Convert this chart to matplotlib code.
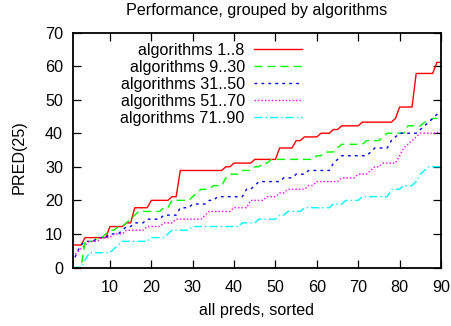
import matplotlib
matplotlib.use('Agg')
import matplotlib.pyplot as plt

# ---------------- data ----------------
x = list(range(1, 91))

alg_1_8 = [6.7, 6.7, 6.7, 8.9, 8.9, 8.9, 8.9, 8.9, 8.9, 12.2,
           12.2, 12.2, 12.2, 13.3, 13.3, 17.8, 17.8, 17.8, 17.8, 20.0,
           20.0, 20.0, 20.0, 20.0, 21.1, 21.1, 28.9, 28.9, 28.9, 28.9,
           28.9, 28.9, 28.9, 28.9, 28.9, 28.9, 28.9, 30.0, 30.0, 31.1,
           31.1, 31.1, 31.1, 31.1, 32.2, 32.2, 32.2, 32.2, 32.2, 32.2,
           35.6, 35.6, 35.6, 35.6, 37.8, 37.8, 38.9, 38.9, 38.9, 38.9,
           40.0, 40.0, 40.0, 41.1, 41.1, 42.2, 42.2, 42.2, 42.2, 42.2,
           43.3, 43.3, 43.3, 43.3, 43.3, 43.3, 43.3, 43.3, 44.4, 47.8,
           47.8, 47.8, 47.8, 57.8, 57.8, 57.8, 57.8, 57.8, 61.1, 61.1]

alg_9_30 = [0.0, 0.0, 0.0, 7.8, 7.8, 7.8, 8.9, 8.9, 10.0, 11.1,
            11.1, 12.2, 12.2, 13.3, 14.4, 15.6, 16.7, 16.7, 16.7, 16.7,
            16.7, 16.7, 17.8, 17.8, 20.0, 20.0, 20.0, 20.0, 20.0, 21.1,
            22.2, 23.3, 23.3, 23.3, 24.4, 24.4, 24.4, 26.7, 27.8, 27.8,
            27.8, 28.9, 28.9, 28.9, 30.0, 30.0, 31.1, 31.1, 32.2, 32.2,
            32.2, 32.2, 32.2, 32.2, 32.2, 32.2, 32.2, 32.2, 32.2, 33.3,
            33.3, 34.4, 34.4, 34.4, 35.6, 36.7, 36.7, 36.7, 36.7, 36.7,
            36.7, 37.8, 37.8, 37.8, 37.8, 38.9, 40.0, 40.0, 40.0, 40.0,
            40.0, 42.2, 42.2, 42.2, 42.2, 43.3, 43.3, 44.4, 44.4, 44.4]

alg_31_50 = [1.1, 4.4, 6.7, 7.8, 7.8, 7.8, 8.9, 8.9, 8.9, 10.0,
             10.0, 10.0, 11.1, 12.2, 12.2, 13.3, 13.3, 13.3, 14.4, 14.4,
             14.4, 14.4, 15.6, 15.6, 15.6, 15.6, 17.8, 17.8, 17.8, 18.9,
             18.9, 18.9, 18.9, 20.0, 20.0, 21.1, 21.1, 21.1, 21.1, 21.1,
             21.1, 21.1, 23.3, 23.3, 24.4, 25.6, 25.6, 25.6, 25.6, 25.6,
             25.6, 26.7, 26.7, 26.7, 27.8, 27.8, 27.8, 28.9, 28.9, 28.9,
             28.9, 28.9, 28.9, 31.1, 32.2, 33.3, 33.3, 33.3, 33.3, 33.3,
             33.3, 33.3, 34.4, 35.6, 35.6, 35.6, 35.6, 37.8, 38.9, 40.0,
             40.0, 40.0, 40.0, 40.0, 41.1, 42.2, 43.3, 44.4, 45.6, 46.7]

alg_51_70 = [3.3, 4.4, 5.6, 6.7, 7.8, 7.8, 7.8, 8.9, 8.9, 8.9,
             10.0, 10.0, 10.0, 11.1, 11.1, 11.1, 11.1, 11.1, 12.2, 12.2,
             12.2, 12.2, 13.3, 13.3, 13.3, 14.4, 14.4, 14.4, 14.4, 14.4,
             14.4, 14.4, 15.6, 16.7, 16.7, 16.7, 16.7, 16.7, 16.7, 17.8,
             17.8, 17.8, 17.8, 20.0, 20.0, 20.0, 20.0, 21.1, 21.1, 21.1,
             22.2, 22.2, 23.3, 23.3, 23.3, 23.3, 23.3, 24.4, 24.4, 25.6,
             25.6, 25.6, 25.6, 25.6, 25.6, 26.7, 26.7, 26.7, 26.7, 27.8,
             27.8, 27.8, 28.9, 30.0, 30.0, 31.1, 31.1, 31.1, 31.1, 33.3,
             35.6, 36.7, 37.8, 38.9, 40.0, 40.0, 40.0, 40.0, 40.0, 41.1]

alg_71_90 = [0.0, 0.0, 0.0, 2.2, 4.4, 4.4, 4.4, 4.4, 4.4, 4.4,
             5.6, 6.7, 7.8, 7.8, 7.8, 7.8, 7.8, 7.8, 7.8, 8.9,
             8.9, 8.9, 8.9, 10.0, 11.1, 11.1, 11.1, 11.1, 11.1, 12.2,
             12.2, 12.2, 12.2, 12.2, 12.2, 12.2, 12.2, 12.2, 12.2, 12.2,
             12.2, 13.3, 13.3, 13.3, 13.3, 14.4, 14.4, 14.4, 14.4, 14.4,
             15.6, 15.6, 16.7, 16.7, 16.7, 16.7, 17.8, 17.8, 17.8, 17.8,
             17.8, 17.8, 17.8, 18.9, 18.9, 18.9, 20.0, 20.0, 20.0, 20.0,
             21.1, 21.1, 21.1, 21.1, 21.1, 21.1, 21.1, 23.3, 23.3, 23.3,
             24.4, 24.4, 24.4, 25.6, 27.8, 28.9, 30.0, 30.0, 30.0, 30.0]

series = [alg_1_8, alg_9_30, alg_31_50, alg_51_70, alg_71_90]
labels = ["algorithms 1..8", "algorithms 9..30", "algorithms 31..50",
          "algorithms 51..70", "algorithms 71..90"]
colors = ["#ff0000", "#00ff00", "#0000ff", "#ff00ff", "#00ffff"]
dashes = [None, (5.8, 3.6), (2.0, 3.0), (1.0, 1.5), (5.8, 2.2, 1.0, 2.2)]

xticks = [10, 20, 30, 40, 50, 60, 70, 80, 90]
yticks = [0, 10, 20, 30, 40, 50, 60, 70]

# ---------------- figure ----------------
plt.rcParams['font.family'] = ['Liberation Sans', 'DejaVu Sans']
FS = 11.6
W, H = 451, 326
fig = plt.figure(figsize=(W / 100, H / 100), dpi=100)
left, right, top, bottom = 72.7, 441, 32.5, 267.5
ax = fig.add_axes([left / W, 1 - bottom / H, (right - left) / W, (bottom - top) / H])

for ys, lab, col, ds in zip(series, labels, colors, dashes):
    line, = ax.plot(x, ys, color=col, lw=1.0, label=lab)
    if ds is not None:
        line.set_dashes(ds)

ax.set_xlim(1, 90)
ax.set_ylim(0, 70)
ax.set_xticks(xticks)
ax.set_yticks(yticks)
ax.tick_params(direction='in', length=5.8, width=0.9, top=True, right=True,
               labelsize=FS, colors='black')
ax.tick_params(axis='x', pad=9)
ax.tick_params(axis='y', pad=7)
for sp in ax.spines.values():
    sp.set_linewidth(1.3)

fig.text((left + right) / 2 / W, 1 - 15 / H, "Performance, grouped by algorithms",
         ha='center', va='baseline', fontsize=FS)

ax.set_xlabel("all preds, sorted", fontsize=FS)
ax.xaxis.set_label_coords(0.5, (bottom - 303) / (bottom - top))
ax.set_ylabel("PRED(25)", fontsize=FS)
ax.yaxis.set_label_coords((27 - left) / (right - left), (bottom - 157) / (bottom - top))

ax.legend(loc='upper right', bbox_to_anchor=((302 - left) / (right - left), 0.955),
          frameon=False, markerfirst=False, handlelength=2.95, handletextpad=0.6,
          labelspacing=0.12, borderpad=0, borderaxespad=0, fontsize=FS)

fig.savefig("out.png", dpi=100, facecolor='white')
